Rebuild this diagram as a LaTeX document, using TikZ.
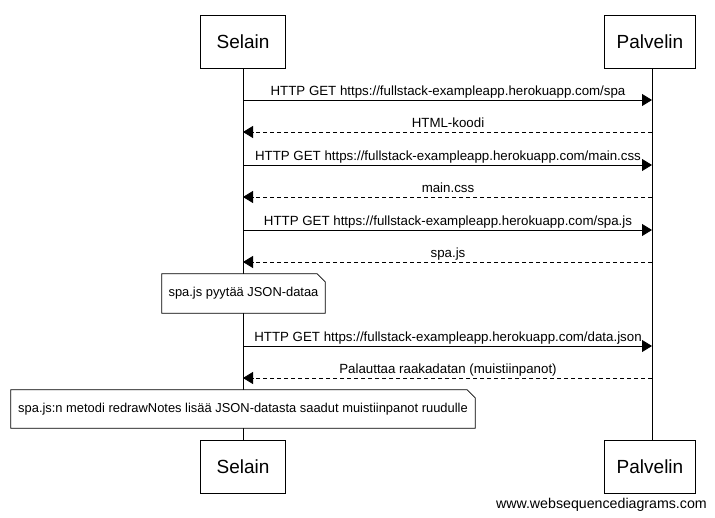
\documentclass[tikz,border=0pt]{standalone}
\usepackage{fontspec}
\setmainfont{Liberation Sans}
\usetikzlibrary{arrows.meta}
\begin{document}
\begin{tikzpicture}[x=1pt,y=-1pt,
  actor/.style={draw,line width=0.8pt,minimum width=85pt,minimum height=53pt,inner sep=0pt,font=\fontsize{19}{22}\selectfont},
  actorp/.style={actor,minimum width=91pt},
  life/.style={line width=0.8pt},
  msg/.style={line width=0.8pt,-{Triangle[length=10pt,width=12pt]}},
  ret/.style={msg,dash pattern=on 4pt off 3pt},
  lbl/.style={font=\fontsize{13.3}{15}\selectfont,inner sep=0pt,anchor=base},
  notebox/.style={inner sep=0pt,font=\fontsize{12.9}{15}\selectfont},
  notepath/.style={line width=0.8pt,fill=white}
]
\useasboundingbox (0,0) rectangle (715,518);
% participants
\node[actor]  (sT) at (243,41.5) {Selain};
\node[actorp] (pT) at (650,41.5) {Palvelin};
\node[actor]  (sB) at (243,467) {Selain};
\node[actorp] (pB) at (650,467) {Palvelin};
\draw[life] (sT.south) -- (sB.north);
\draw[life] (pT.south -| 652,0) coordinate (pt) -- (pB.north -| 652,0) coordinate (pb);
% message endpoints
\foreach \i/\y in {1/100,2/132,3/165,4/197,5/230,6/262,7/346,8/378}{
  \coordinate (s\i) at (243,\y);
  \coordinate (p\i) at (652,\y);
}
\draw[msg] (s1) -- (p1);
\node[lbl] (l1) at (448,96) {HTTP GET https://fullstack-exampleapp.herokuapp.com/spa};
\draw[ret] (p2) -- (s2);
\node[lbl] (l2) at (448,128) {HTML-koodi};
\draw[msg] (s3) -- (p3);
\node[lbl] (l3) at (448,161) {HTTP GET https://fullstack-exampleapp.herokuapp.com/main.css};
\draw[ret] (p4) -- (s4);
\node[lbl] (l4) at (448,193) {main.css};
\draw[msg] (s5) -- (p5);
\node[lbl] (l5) at (448,226) {HTTP GET https://fullstack-exampleapp.herokuapp.com/spa.js};
\draw[ret] (p6) -- (s6);
\node[lbl] (l6) at (448,258) {spa.js};
% note 1
\node[notebox,minimum width=163pt,minimum height=39pt] (n1) at (243.5,293.5) {};
\draw[notepath] (n1.north west) -- ([xshift=-8pt]n1.north east) -- ([yshift=-8pt]n1.north east) -- (n1.south east) -- (n1.south west) -- cycle;
\node[notebox] (n1t) at (n1.center) {spa.js pyytää JSON-dataa};
\draw[msg] (s7) -- (p7);
\node[lbl] (l7) at (448,342) {HTTP GET https://fullstack-exampleapp.herokuapp.com/data.json};
\draw[ret] (p8) -- (s8);
\node[lbl] (l8) at (448,374) {Palauttaa raakadatan (muistiinpanot)};
% note 2
\node[notebox,minimum width=464pt,minimum height=38pt] (n2) at (243,409) {};
\draw[notepath] (n2.north west) -- ([xshift=-8pt]n2.north east) -- ([yshift=-8pt]n2.north east) -- (n2.south east) -- (n2.south west) -- cycle;
\node[notebox] (n2t) at (n2.center) {spa.js:n metodi redrawNotes lisää JSON-datasta saadut muistiinpanot ruudulle};
% watermark
\node[font=\fontsize{14.2}{16}\selectfont,inner sep=0pt,anchor=base east] (wm) at (707,508) {www.websequencediagrams.com};
\end{tikzpicture}
\end{document}
